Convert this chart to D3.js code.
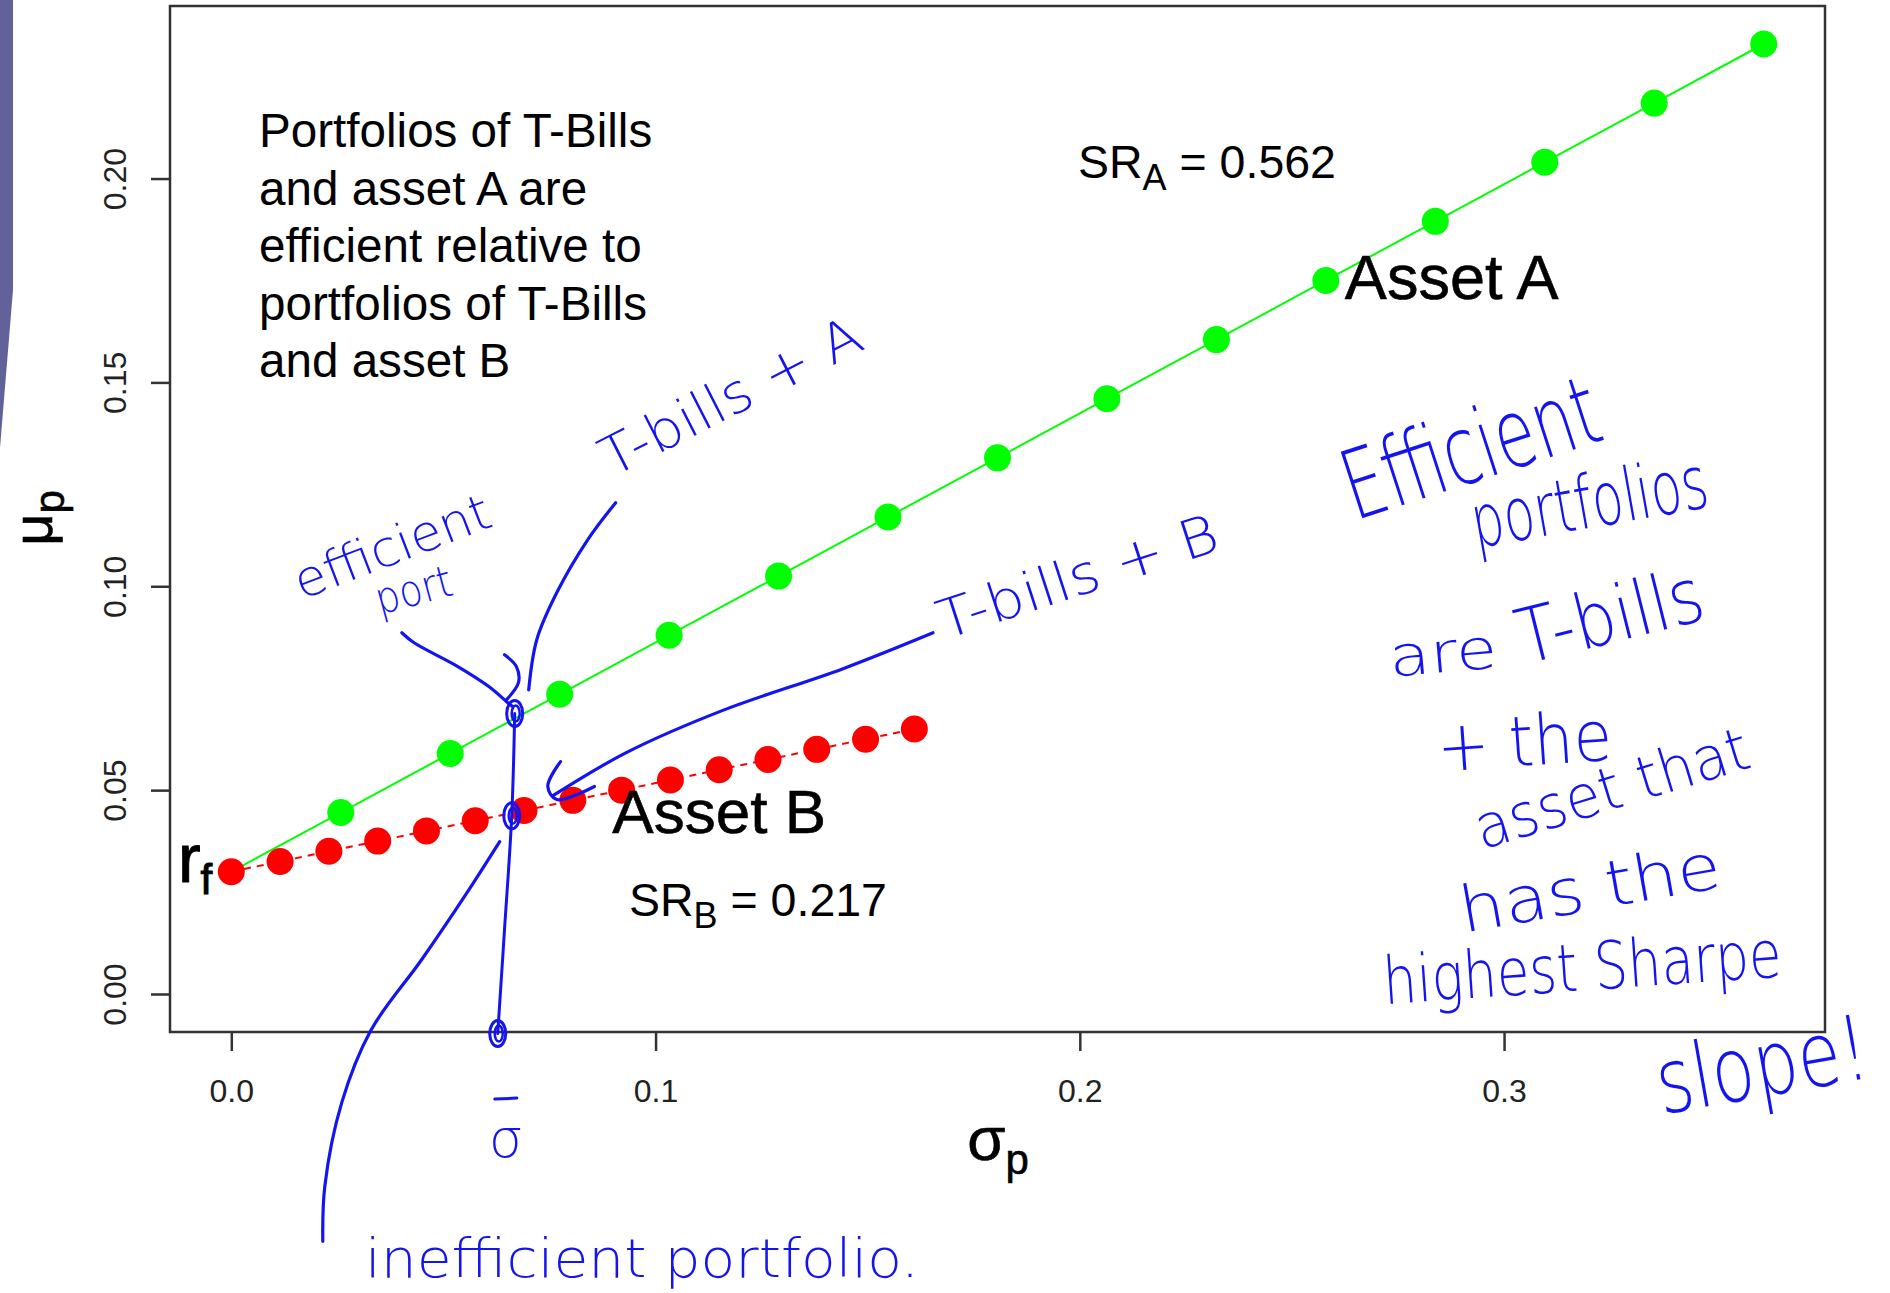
<!DOCTYPE html>
<html>
<head>
<meta charset="utf-8">
<script src="https://cdn.jsdelivr.net/npm/d3@7"></script>
<style>
  html, body { margin: 0; padding: 0; background: #ffffff; }
  svg { display: block; }
  text { font-family: "Liberation Sans", Arial, sans-serif; }
  .ink { font-family: "DejaVu Sans", "Liberation Sans", sans-serif; font-weight: 200; fill: #1414f0; }
</style>
</head>
<body>
<svg id="chart" width="1890" height="1293"></svg>
<script>
// ---------------- data ----------------
// Portfolios of T-Bills and asset A (sigma_p, mu_p)
const sigmaA = [0, 0.0258, 0.0516, 0.0774, 0.1032, 0.129, 0.1548, 0.1806, 0.2064, 0.2322, 0.258, 0.2838, 0.3096, 0.3354, 0.3612];
const muA    = [0.03, 0.0445, 0.059, 0.0735, 0.088, 0.1025, 0.117, 0.1315, 0.146, 0.1605, 0.175, 0.1895, 0.204, 0.2185, 0.233];
// Portfolios of T-Bills and asset B
const sigmaB = [0, 0.0115, 0.023, 0.0345, 0.046, 0.0575, 0.069, 0.0805, 0.092, 0.1035, 0.115, 0.1265, 0.138, 0.1495, 0.161];
const muB    = [0.03, 0.0325, 0.035, 0.0375, 0.04, 0.0425, 0.045, 0.0475, 0.05, 0.0525, 0.055, 0.0575, 0.06, 0.0625, 0.065];
// key points
const assetA = [0.258, 0.175];
const assetB = [0.115, 0.055];
const rf = 0.03;
const srA = "0.562";
const srB = "0.217";
// axis ticks
const xTicks = [0, 0.1, 0.2, 0.3];
const xTickLabels = ["0.0", "0.1", "0.2", "0.3"];
const yTicks = [0, 0.05, 0.10, 0.15, 0.20];
const yTickLabels = ["0.00", "0.05", "0.10", "0.15", "0.20"];
const noteLines = ["Portfolios of T-Bills", "and asset A are", "efficient relative to", "portfolios of T-Bills", "and asset B"];

// hand-written annotations (data coordinates: sigma, mu)
const inkMarks = [[0.0668, 0.0688], [0.0661, 0.0437], [0.0628, -0.0097]];
const inkVertical = [[0.0668, 0.0688], [0.0661, 0.0437], [0.0644, 0.0158], [0.0628, -0.0097]];
const inkCurves = [
  [[0.02157, -0.06066], [0.02204, -0.04718], [0.02605, -0.02659], [0.03288, -0.00895], [0.04489, 0.00846], [0.05572, 0.02512], [0.06326, 0.03738]],
  [[0.0906, 0.1205], [0.0840, 0.1114], [0.0767, 0.0984], [0.0720, 0.0869], [0.0701, 0.0746]],
  [[0.0402, 0.0886], [0.0430, 0.0862], [0.0534, 0.0803], [0.0607, 0.0754], [0.0649, 0.0717], [0.0663, 0.0705]],
  [[0.0644, 0.0832], [0.0672, 0.0803], [0.0677, 0.0764], [0.0649, 0.0722]],
  [[0.1654, 0.0886], [0.1442, 0.0798], [0.1157, 0.0695], [0.0931, 0.0592], [0.0759, 0.0487]],
  [[0.0776, 0.0570], [0.0746, 0.0509], [0.0767, 0.0477], [0.0856, 0.0509]]
];
const inkTexts = [
  {t: "T-bills + A", p: [0.0897, 0.1266], a: -27, s: 54, w: 286},
  {t: "efficient", p: [0.0166, 0.0967], a: -21, s: 50, w: 207},
  {t: "port", p: [0.0350, 0.0930], a: -15, s: 44, w: 78},
  {t: "T-bills + B", p: [0.1681, 0.0869], a: -18, s: 54, w: 292},
  {t: "Efficient", p: [0.2648, 0.1161], a: -18, s: 96, w: 265},
  {t: "portfolios", p: [0.2934, 0.1094], a: -10, s: 74, w: 239},
  {t: "are", p: [0.2733, 0.0778], a: -5, s: 56, w: 108},
  {t: "T-bills", p: [0.3047, 0.0808], a: -14, s: 76, w: 190},
  {t: "+ the", p: [0.2846, 0.0545], a: -4, s: 70, w: 175},
  {t: "asset that", p: [0.2948, 0.0354], a: -17, s: 60, w: 284},
  {t: "has the", p: [0.2905, 0.0150], a: -10, s: 64, w: 264},
  {t: "highest Sharpe", p: [0.2719, -0.0025], a: -4, s: 66, w: 399},
  {t: "slope!", p: [0.3372, -0.0295], a: -10, s: 90, w: 214},
  {t: "inefficient   portfolio.", p: [0.0315, -0.0695], a: 0, s: 54, w: 554}
];
const sigmaBarLabel = {t: "σ", p: [0.0647, -0.0400]};

// ---------------- chart ----------------
const svg = d3.select("#chart");
const plot = {left: 170, right: 1825, top: 6, bottom: 1032};

const xMax = d3.max(sigmaA.concat(sigmaB));
const yMax = d3.max(muA.concat(muB));
const xPad = 0.04 * xMax, yPad = 0.04 * yMax;
const x = d3.scaleLinear().domain([0 - xPad, xMax + xPad]).range([plot.left, plot.right]);
const y = d3.scaleLinear().domain([0 - yPad, yMax + yPad]).range([plot.bottom, plot.top]);

// slide decoration at the far left
svg.append("polygon").attr("points", "0,0 13,0 13,290 0,448").attr("fill", "#62629a");

// axes
const axB = svg.append("g").attr("transform", `translate(0,${plot.bottom})`)
  .call(d3.axisBottom(x).tickValues(xTicks).tickFormat((d, i) => xTickLabels[i]).tickSize(19).tickPadding(28));
const axL = svg.append("g").attr("transform", `translate(${plot.left},0)`)
  .call(d3.axisLeft(y).tickValues(yTicks).tickFormat((d, i) => yTickLabels[i]).tickSize(19));
[axB, axL].forEach(g => {
  g.select(".domain").remove();
  g.selectAll(".tick line").attr("stroke", "#333").attr("stroke-width", 2.5);
  g.selectAll(".tick text").attr("fill", "#222").style("font-size", "32px")
    .style("font-family", '"Liberation Sans", Arial, sans-serif');
});
axL.selectAll(".tick text").attr("transform", "rotate(-90)")
  .attr("x", 0).attr("y", -(plot.left - 126)).attr("dy", 0).attr("text-anchor", "middle");

// box
svg.append("rect").attr("x", plot.left).attr("y", plot.top)
  .attr("width", plot.right - plot.left).attr("height", plot.bottom - plot.top)
  .attr("fill", "none").attr("stroke", "#333").attr("stroke-width", 2.5);

// axis titles
const xt = svg.append("text").attr("x", 998).attr("y", 1160).attr("text-anchor", "middle").attr("fill", "#000")
  .attr("stroke", "#000").attr("stroke-width", 0.6);
xt.append("tspan").style("font-size", "62px").text("σ");
xt.append("tspan").style("font-size", "42px").attr("dy", 14).text("p");
const yt = svg.append("text").attr("transform", "translate(52,518) rotate(-90)").attr("text-anchor", "middle").attr("fill", "#000")
  .attr("stroke", "#000").attr("stroke-width", 0.6);
yt.append("tspan").style("font-size", "56px").text("μ");
yt.append("tspan").style("font-size", "42px").attr("dy", 12).text("p");

// series
const line = d3.line().x(d => x(d[0])).y(d => y(d[1]));
const ptsA = sigmaA.map((s, i) => [s, muA[i]]);
const ptsB = sigmaB.map((s, i) => [s, muB[i]]);
svg.append("path").datum(ptsA).attr("d", line).attr("fill", "none").attr("stroke", "#00ff00").attr("stroke-width", 2);
svg.selectAll("circle.a").data(ptsA.slice(1)).enter().append("circle").attr("class", "a")
  .attr("cx", d => x(d[0])).attr("cy", d => y(d[1])).attr("r", 13.5).attr("fill", "#00ff00");
svg.append("path").datum(ptsB).attr("d", line).attr("fill", "none").attr("stroke", "#ff0000")
  .attr("stroke-width", 2).attr("stroke-dasharray", "7,6");
svg.selectAll("circle.b").data(ptsB).enter().append("circle").attr("class", "b")
  .attr("cx", d => x(d[0])).attr("cy", d => y(d[1])).attr("r", 13.5).attr("fill", "#ff0000");

// labels
svg.append("text").attr("x", x(assetA[0]) + 19).attr("y", y(assetA[1]) + 19)
  .style("font-size", "63px").attr("fill", "#000").attr("stroke", "#000").attr("stroke-width", 0.6).text("Asset A");
svg.append("text").attr("x", x(assetB[0])).attr("y", y(assetB[1]) + 63).attr("text-anchor", "middle")
  .style("font-size", "62px").attr("fill", "#000").attr("stroke", "#000").attr("stroke-width", 0.6).text("Asset B");
const rfT = svg.append("text").attr("x", x(0) - 19).attr("y", y(rf) + 10).attr("text-anchor", "end").attr("fill", "#000")
  .attr("stroke", "#000").attr("stroke-width", 1);
rfT.append("tspan").style("font-size", "68px").text("r");
rfT.append("tspan").style("font-size", "42px").attr("dy", 12).text("f");

function srLabel(xp, yp, sub, val) {
  const t = svg.append("text").attr("x", xp).attr("y", yp).attr("fill", "#000");
  t.append("tspan").style("font-size", "46.5px").text("SR");
  t.append("tspan").style("font-size", "36px").attr("dy", 12).text(sub);
  t.append("tspan").style("font-size", "46.5px").attr("dy", -12).text(" = " + val);
}
srLabel(1078, 178, "A", srA);
srLabel(629, 916, "B", srB);

svg.append("g").selectAll("text").data(noteLines).enter().append("text")
  .attr("x", 259).attr("y", (d, i) => 147 + i * 57.5).style("font-size", "47.6px").attr("fill", "#000").text(d => d);

// ---------------- hand-written ink ----------------
const ink = svg.append("g").attr("fill", "none").attr("stroke", "#1414f0").attr("stroke-linecap", "round").attr("stroke-linejoin", "round");
const curve = d3.line().x(d => x(d[0])).y(d => y(d[1])).curve(d3.curveCatmullRom);
ink.append("path").datum(inkVertical).attr("d", curve).attr("stroke-width", 3);
inkCurves.forEach(c => ink.append("path").datum(c).attr("d", curve).attr("stroke-width", 3.2));
inkMarks.forEach(m => {
  ink.append("ellipse").attr("cx", x(m[0])).attr("cy", y(m[1])).attr("rx", 8).attr("ry", 13).attr("stroke-width", 3);
  ink.append("ellipse").attr("cx", x(m[0]) + 1).attr("cy", y(m[1])).attr("rx", 4).attr("ry", 8).attr("stroke-width", 2.5);
});
svg.append("g").selectAll("text").data(inkTexts).enter().append("text").attr("class", "ink")
  .attr("transform", d => `translate(${x(d.p[0])},${y(d.p[1])}) rotate(${d.a})`)
  .attr("textLength", d => d.w).attr("lengthAdjust", "spacingAndGlyphs")
  .style("font-size", d => d.s + "px").text(d => d.t);
svg.append("text").attr("class", "ink").attr("x", x(sigmaBarLabel.p[0])).attr("y", y(sigmaBarLabel.p[1]))
  .attr("text-anchor", "middle").style("font-size", "54px").text(sigmaBarLabel.t);
ink.append("line").attr("x1", x(sigmaBarLabel.p[0]) - 11).attr("x2", x(sigmaBarLabel.p[0]) + 11)
  .attr("y1", y(sigmaBarLabel.p[1]) - 58).attr("y2", y(sigmaBarLabel.p[1]) - 59).attr("stroke-width", 3);
</script>
</body>
</html>
